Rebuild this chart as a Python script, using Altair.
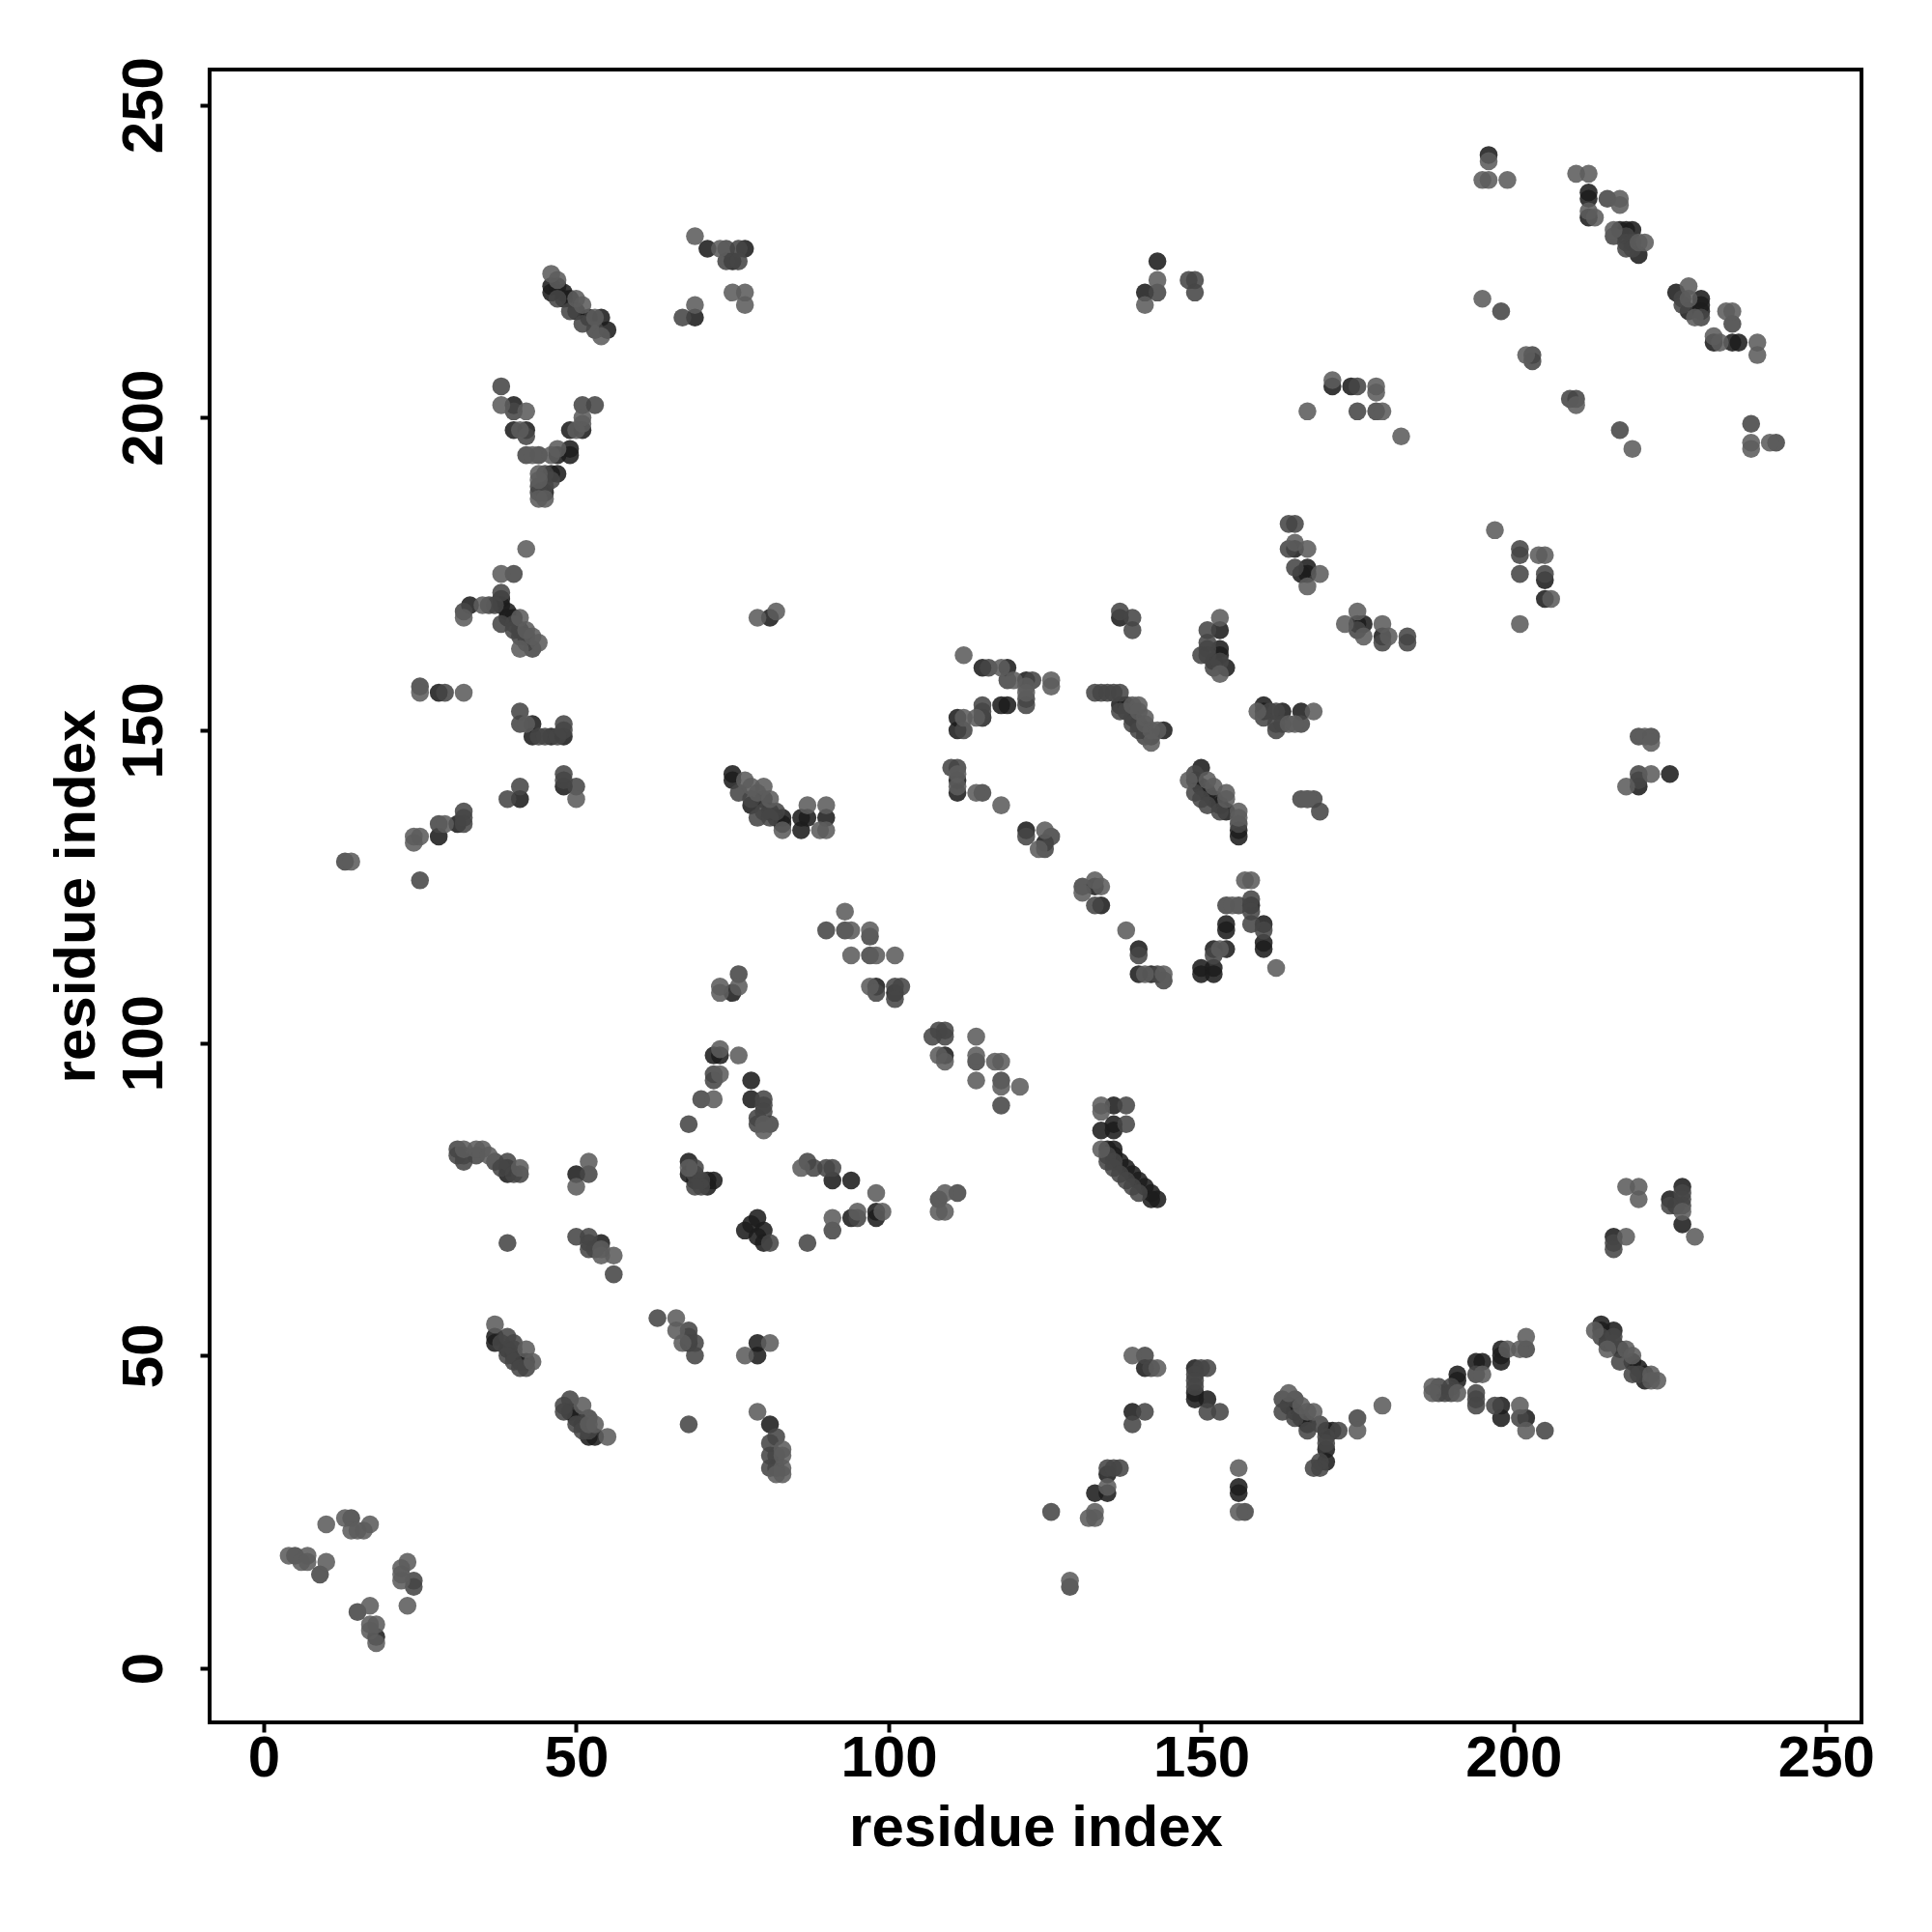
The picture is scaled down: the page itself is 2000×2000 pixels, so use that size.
import altair as alt
import pandas as pd

LIGHT = [
(69,229),(73,227),(75,220),(77,220),(77,218),(69,218),(46,223),(47,222),(50,219),(51,218),(53,216),(54,213),
(38,202),(42,201),(41,198),(43,194),(46,194),(47,195),(51,199),(51,200),(50,198),(44,191),(44,190),(44,187),(45,187),
(42,179),(38,175),(35,170),(41,168),(32,168),(44,164),(41,163),(43,165),(42,166),
(25,156),(32,156),(42,151),(50,139),(29,135),(25,133),(24,133),(24,132),(14,129),
(76,109),(73,109),(73,108),(73,99),(76,98),(73,95),(72,91),(77,142),(78,141),(79,140),(80,141),(81,139),(79,168),(82,169),
(112,162),(118,160),(120,158),(126,158),(126,157),(122,157),(122,156),(112,152),(114,152),
(139,154),(140,154),(140,153),(141,152),(141,151),(142,150),(143,150),(142,148),
(153,159),(153,168),(159,153),(168,153),(164,151),(165,151),
(83,134),(87,138),(90,138),(89,134),(90,134),(111,143),(111,141),(114,140),(118,138),(125,134),(124,131),
(148,142),(151,142),(152,141),(154,140),(154,139),(156,137),(156,136),(167,139),
(93,121),(94,118),(97,118),(94,114),(98,114),(101,114),(97,109),
(108,98),(109,97),(114,101),(114,98),(117,97),(118,97),(114,94),(118,93),(121,93),
(131,124),(133,126),(134,125),(138,118),(141,111),(144,111),(153,115),(155,122),(157,126),(158,126),(162,112),
(134,90),(134,89),(134,83),(86,80),(98,76),(91,72),(95,73),(99,73),(109,76),(108,73),(109,73),
(80,86),(80,87),(68,80),(52,81),(50,77),(54,66),(54,67),(56,66),(37,55),(42,51),(43,49),(66,56),(66,54),(67,52),(77,50),(81,52),
(32,83),(35,83),(34,83),(36,82),(41,80),(51,42),(52,39),(53,39),(55,37),
(10,23),(13,24),(17,23),(14,22),(15,22),(16,22),(4,18),(7,18),(6,17),(7,17),(10,17),(23,17),(22,16),(22,15),(22,14),(23,10),(17,10),(17,7),(18,7),(17,6),(18,4),
(83,35),(83,34),(83,32),(83,31),(79,41),(82,31),
(139,50),(143,48),(135,29),(133,25),(132,24),(133,24),(129,14),(156,32),(156,25),(164,44),(166,42),(167,41),
(218,77),(220,77),(220,75),(227,73),(229,69),(218,69),(213,54),(215,51),(218,51),(219,50),(222,47),(223,46),(222,46),
(179,42),(175,38),(168,41),(187,45),(187,44),(191,44),(195,47),(199,51),(201,51),(202,53),(201,42),(202,38),
(221,149),(222,148),(222,143),(218,141),(173,167),(176,165),(179,167),(180,165),(201,167),
(196,241),(195,238),(196,238),(199,238),(210,239),(212,239),(217,235),(217,234),(212,233),(213,232),(216,230),(220,228),(221,228),
(228,221),(228,219),(229,216),(234,217),(235,217),(232,213),(233,212),(239,212),(239,210),
(195,219),(202,210),(210,202),(219,195),(238,196),(238,195),(241,196),
(171,206),(178,205),(178,204),(179,201),(182,197),(167,201),(204,178),(205,178),(197,182),(206,171),(175,169),(169,175),(167,173),
(167,179),(165,180),(143,222),(141,218),(167,139),
]

MEDIUM = [
(67,216),(74,227),(76,227),(74,225),(76,225),(47,219),(49,217),(51,215),(53,214),
(38,205),(40,201),(42,197),(51,202),(53,202),(42,194),(44,194),(45,191),(44,189),(44,188),(45,189),(46,190),
(40,175),(38,172),(32,169),(36,170),(37,170),(38,167),(40,167),(40,166),(41,165),(42,164),(43,163),(42,165),
(25,157),(29,156),(41,153),(41,151),(48,151),(48,150),(44,149),(45,149),(47,149),(41,141),(39,139),(48,143),(48,142),(50,141),
(32,137),(32,136),(32,135),(28,135),(13,129),(25,126),(76,111),(72,95),(72,94),(70,91),(68,87),
(116,160),(119,158),(123,158),(122,155),(122,154),(115,154),(115,153),(115,152),(112,150),
(133,156),(134,156),(135,156),(136,156),(137,156),(137,153),(138,153),(139,151),(140,150),(141,149),
(151,166),(151,164),(150,162),(151,163),(151,162),(152,160),(153,161),(161,153),(162,153),(160,152),(162,150),(162,151),(163,151),(166,151),
(76,140),(79,136),(82,137),(78,139),(80,137),(81,136),
(110,144),(111,144),(122,133),(126,133),(125,131),(115,140),
(149,143),(149,140),(150,139),(151,138),(153,137),(156,135),(166,139),(169,137),
(90,118),(93,118),(97,117),(97,114),(101,109),(102,109),(101,107),(98,108),
(107,101),(108,102),(109,102),(109,101),(114,97),(118,94),(118,90),
(131,125),(133,122),(140,114),(143,111),(144,110),(152,114),(154,122),(156,122),(158,123),(158,121),(158,119),(160,118),
(138,90),(138,87),(136,81),(135,82),(135,81),(136,80),(137,79),(138,78),(139,77),(140,76),
(87,81),(88,80),(90,80),(91,80),(91,70),(95,72),(87,68),(108,75),(111,76),(81,68),(80,91),(80,90),(80,89),(79,88),(79,87),(81,87),
(69,80),(69,79),(70,78),(70,77),(69,77),
(31,83),(31,82),(32,82),(32,81),(34,82),(37,81),(39,81),(38,80),(41,79),(40,79),(52,79),
(39,68),(50,69),(52,69),(52,68),(52,67),(53,67),(56,63),(39,53),(40,52),(38,52),(40,51),(39,50),(40,49),(41,48),(42,48),
(49,43),(48,42),(48,41),(50,39),(51,38),(52,38),(52,40),(63,56),(68,54),(68,53),(69,52),(69,50),(68,39),
(9,15),(15,9),(14,24),(24,14),(24,13),(5,18),
(82,37),(81,36),(82,34),(81,34),(81,32),(82,32),
(141,50),(142,48),(141,41),(139,39),(150,48),(151,48),(149,47),(149,46),(149,45),(151,41),(153,41),
(135,32),(136,32),(137,32),(126,25),(129,13),(157,25),(163,43),(165,43),(163,41),(165,40),(167,38),
(227,76),(227,75),(227,74),(225,74),(216,68),(216,67),(216,53),(214,53),(216,52),(217,49),(219,47),(220,47),
(175,40),(172,38),(170,37),(170,36),(169,33),(169,32),(168,32),(169,39),
(188,45),(188,44),(189,44),(190,45),(190,44),(194,47),(194,44),(194,43),(194,42),(202,51),(197,42),(201,40),(205,38),
(220,149),(222,149),(220,143),(220,142),(179,164),(183,165),(183,164),(175,166),
(215,235),(216,229),(218,229),(218,228),(218,227),(219,228),(219,227),(227,219),(227,218),(230,216),(235,215),
(198,217),(203,210),(203,209),(209,203),(210,203),(217,198),(238,199),(242,196),
(175,205),(175,201),(178,201),(201,179),(201,178),(201,175),(205,175),
(164,183),(165,183),(164,179),(165,176),(143,220),(148,222),(149,222),(149,220),
(137,169),(139,168),(139,166),(168,139),
]

DARK = [
(71,227),(77,227),(75,225),(69,216),(46,221),(46,220),(48,220),(49,219),(52,216),(54,216),(55,214),(47,221),(48,219),(50,217),
(40,202),(40,198),(42,198),(47,194),(49,195),(49,194),(49,198),(51,198),(46,191),(47,191),(45,188),
(38,171),(33,170),(38,170),(39,169),(39,168),(40,168),(41,166),(42,165),
(28,156),(43,151),(43,149),(46,149),(48,149),(41,139),(48,141),(31,135),(28,133),
(75,108),(72,98),(73,98),(78,94),(78,91),(75,143),(75,142),(78,138),(81,168),
(115,160),(119,160),(122,158),(115,152),(118,154),(119,154),(111,152),(111,150),
(137,154),(138,154),(144,150),(139,152),(140,151),(141,150),(142,149),
(153,166),(153,163),(153,162),(152,161),(154,160),(160,154),(160,153),(163,153),(166,153),
(83,136),(86,136),(86,134),(87,136),(90,136),(80,139),(81,137),(82,136),(83,135),
(111,142),(111,140),(122,134),(125,132),
(150,144),(149,142),(150,141),(151,140),(152,139),(153,138),(154,137),(156,134),(156,133),
(98,109),(101,108),(109,98),
(133,125),(134,122),(140,115),(140,111),(142,111),(150,111),(150,112),(152,112),(152,111),(152,115),(154,115),(154,119),(154,118),(158,122),(160,119),(160,116),(160,115),
(136,90),(134,86),(136,87),(136,86),(135,83),(136,83),
(136,82),(137,81),(138,80),(139,79),(140,78),(141,77),(142,76),(143,75),(142,75),
(91,78),(94,78),(94,72),(98,73),(98,72),(80,70),(80,68),(77,70),(78,71),(79,72),(79,69),
(68,81),(68,79),(69,78),(71,78),(72,78),(71,77),
(39,80),(39,79),(50,79),(54,68),(37,53),(37,52),(39,51),(40,50),(41,49),(42,49),
(49,41),(50,40),(51,39),(52,37),(53,37),(68,52),(79,50),(79,52),
(18,5),(81,39),
(141,48),(139,41),(149,48),(149,44),(149,43),(151,43),(135,31),(135,28),(133,28),(156,29),(156,28),
(164,42),(165,41),(166,40),(167,39),
(227,77),(225,75),(226,74),(227,71),(216,69),(214,55),(214,54),(216,54),(215,52),(217,51),(219,49),(220,48),(221,47),(221,46),
(171,38),(170,38),(170,35),(170,33),
(191,47),(191,46),(194,49),(195,49),(198,51),(198,50),(198,49),(198,42),(198,40),(202,40),
(225,143),(220,141),(175,167),(176,167),(179,165),
(196,242),(212,236),(212,235),(212,232),(217,230),(218,230),(219,230),(220,226),
(226,220),(228,217),(230,219),(230,218),(230,217),(232,212),(235,212),(236,212),
(171,205),(174,205),(205,174),(205,171),(165,179),(167,176),(167,175),(166,175),(143,225),(141,220),(137,168),
]

rows = (
    [{"x": a, "y": b, "c": "#1d1d1d"} for a, b in DARK]
    + [{"x": a, "y": b, "c": "#464646"} for a, b in MEDIUM]
    + [{"x": a, "y": b, "c": "#5c5c5c"} for a, b in LIGHT]
)
df = pd.DataFrame(rows)

FONT = "Liberation Sans"
TICKS = [0, 50, 100, 150, 200, 250]
DOMAIN = [-8.66, 255.66]
FS = 60

chart = (
    alt.Chart(df)
    .mark_circle(size=345, opacity=0.88, stroke=None)
    .encode(
        x=alt.X("x:Q", scale=alt.Scale(domain=DOMAIN, nice=False, zero=False),
                axis=alt.Axis(values=TICKS, format="d", domain=False, grid=False, title="residue index",
                              tickColor="black", tickWidth=4, tickSize=10,
                              labelFont=FONT, labelFontSize=FS, labelFontWeight="bold", labelColor="black",
                              labelPadding=-2, labelFlush=False, labelOverlap=False,
                              titleFont=FONT, titleFontSize=FS, titleFontWeight="bold", titleColor="black",
                              titleBaseline="middle", titleY=109)),
        y=alt.Y("y:Q", scale=alt.Scale(domain=DOMAIN, nice=False, zero=False),
                axis=alt.Axis(values=TICKS, format="d", domain=False, grid=False, title="residue index",
                              tickColor="black", tickWidth=4, tickSize=10,
                              labelFont=FONT, labelFontSize=FS, labelFontWeight="bold", labelColor="black",
                              labelAngle=270, labelAlign="center", labelBaseline="bottom",
                              labelPadding=27, labelFlush=False, labelOverlap=False,
                              titleFont=FONT, titleFontSize=FS, titleFontWeight="bold", titleColor="black",
                              titleBaseline="middle", titleX=-138)),
        color=alt.Color("c:N", scale=None, legend=None),
    )
    .properties(
        width=1710, height=1711,
        autosize=alt.AutoSizeParams(type="none"),
        padding={"left": 209, "top": 64, "right": 60, "bottom": 200},
        background="white",
    )
    .configure_view(stroke="black", strokeWidth=4)
)
chart.save("out.html", embed_options={"renderer": "svg", "actions": False})
